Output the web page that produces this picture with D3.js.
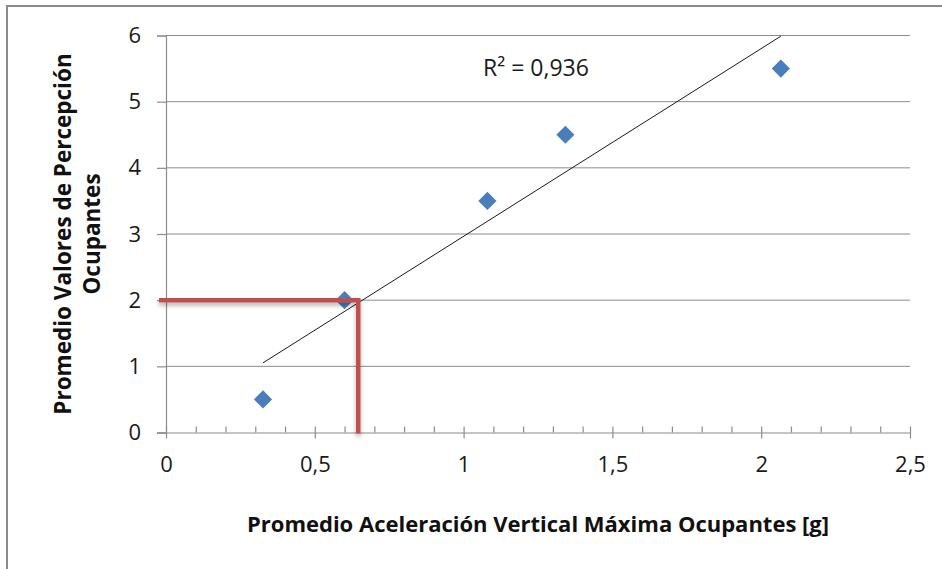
<!DOCTYPE html>
<html>
<head>
<meta charset="utf-8">
<script src="https://cdn.jsdelivr.net/npm/d3@7"></script>
<style>
  body { margin: 0; background: #fff; }
  svg { display: block; font-family: "Open Sans", sans-serif; }
</style>
</head>
<body>
<div id="chart"></div>
<script>
// data
const accel = [0.326, 0.6, 1.08, 1.342, 2.066];
const perception = [0.5, 2, 3.5, 4.5, 5.5];
const xTicks = [0, 0.5, 1, 1.5, 2, 2.5];
const yTicks = [0, 1, 2, 3, 4, 5, 6];
const refPoint = [0.646, 2];   // red guide lines
const r2Label = "R² = 0,936";
const xTitle = "Promedio Aceleración Vertical Máxima Ocupantes [g]";
const yTitle = ["Promedio Valores de Percepción", "Ocupantes"];

const width = 942, height = 569;
const margin = {top: 35.5, right: 32, bottom: 136.5, left: 166};

const svg = d3.select("#chart").append("svg")
    .attr("width", width)
    .attr("height", height);

// outer frame (cut off at right and bottom)
svg.append("rect")
    .attr("x", 7).attr("y", 6)
    .attr("width", 960).attr("height", 600)
    .attr("fill", "none")
    .attr("stroke", "#8a8a8a")
    .attr("stroke-width", 2);

const x = d3.scaleLinear().domain([0, 2.5]).range([margin.left, width - margin.right]);
const y = d3.scaleLinear().domain([0, 6]).range([height - margin.bottom, margin.top]);

const fmt = d => String(d).replace(".", ",");

// gridlines
svg.append("g")
    .selectAll("line")
    .data(yTicks.filter(d => d > 0))
    .join("line")
    .attr("x1", x(0)).attr("x2", x(2.5))
    .attr("y1", d => y(d)).attr("y2", d => y(d))
    .attr("stroke", "#8c8c8c")
    .attr("stroke-width", 1);

// y axis
const yAxis = svg.append("g")
    .attr("transform", "translate(" + x(0) + ",0)")
    .call(d3.axisLeft(y).tickValues(yTicks).tickSize(9).tickPadding(16).tickFormat(fmt));

// x minor ticks (inside)
const minor = d3.range(0, 26).map(i => i / 10).filter(d => Math.abs(d * 2 - Math.round(d * 2)) > 1e-6);
svg.append("g")
    .attr("transform", "translate(0," + y(0) + ")")
    .call(d3.axisTop(x).tickValues(minor).tickSize(6).tickFormat(""))
    .call(g => g.select(".domain").remove());

// x axis, major ticks cross
const xAxis = svg.append("g")
    .attr("transform", "translate(0," + y(0) + ")")
    .call(d3.axisBottom(x).tickValues(xTicks).tickSizeInner(6).tickSizeOuter(0).tickPadding(26).tickFormat(fmt));
xAxis.selectAll(".tick line").attr("y1", -6);
xAxis.select(".domain").attr("d", "M" + (x(0) - 9) + ",0.5H" + x(2.5));

svg.selectAll(".domain, .tick line")
    .attr("stroke", "#8c8c8c")
    .attr("stroke-width", 1.2);
svg.selectAll(".tick text")
    .attr("font-size", 22)
    .attr("font-family", "Open Sans, sans-serif")
    .attr("fill", "#1a1a1a");
xAxis.selectAll(".tick text").attr("dy", "0.35em");

// regression line
const mx = d3.mean(accel), my = d3.mean(perception);
const sxy = d3.sum(accel, (d, i) => (d - mx) * (perception[i] - my));
const sxx = d3.sum(accel, d => (d - mx) * (d - mx));
const slope = sxy / sxx, intercept = my - slope * mx;
const xMin = d3.min(accel), xMax = d3.max(accel);

svg.append("line")
    .attr("x1", x(xMin)).attr("y1", y(intercept + slope * xMin))
    .attr("x2", x(xMax)).attr("y2", y(intercept + slope * xMax))
    .attr("stroke", "#1a1a1a")
    .attr("stroke-width", 1);

// diamonds
svg.append("g")
    .selectAll("path")
    .data(accel.map((d, i) => ({x: d, y: perception[i]})))
    .join("path")
    .attr("d", d3.symbol(d3.symbolSquare, 165))
    .attr("transform", d => "translate(" + x(d.x) + "," + y(d.y) + ") rotate(45)")
    .attr("fill", "#4a7ebb");

// red guide lines
const defs = svg.append("defs");
defs.append("filter").attr("id", "shadow")
    .attr("x", "-10%").attr("y", "-100%").attr("width", "120%").attr("height", "400%")
    .append("feDropShadow")
    .attr("dx", 0).attr("dy", 3).attr("stdDeviation", 2)
    .attr("flood-color", "#000").attr("flood-opacity", 0.3);

svg.append("path")
    .attr("d", "M" + (x(0) - 7) + "," + y(refPoint[1]) +
        "H" + x(refPoint[0]) + "V" + (y(0) + 1))
    .attr("fill", "none")
    .attr("stroke", "#c0504d")
    .attr("stroke-width", 4.5)
    .attr("filter", "url(#shadow)");

// R² label
svg.append("text")
    .attr("x", 483).attr("y", 76)
    .attr("font-size", 23)
    .attr("fill", "#1a1a1a")
    .text(r2Label);

// axis titles
svg.append("text")
    .attr("x", (x(0) + x(2.5)) / 2)
    .attr("y", 532)
    .attr("text-anchor", "middle")
    .attr("font-size", 22)
    .attr("font-weight", "bold")
    .attr("fill", "#111")
    .text(xTitle);

svg.append("g")
    .attr("transform", "translate(0,234) rotate(-90)")
    .selectAll("text")
    .data(yTitle)
    .join("text")
    .attr("x", 0)
    .attr("y", (d, i) => 71 + i * 29)
    .attr("text-anchor", "middle")
    .attr("font-size", 22.5)
    .attr("font-weight", "bold")
    .attr("fill", "#111")
    .text(d => d);
</script>
</body>
</html>
